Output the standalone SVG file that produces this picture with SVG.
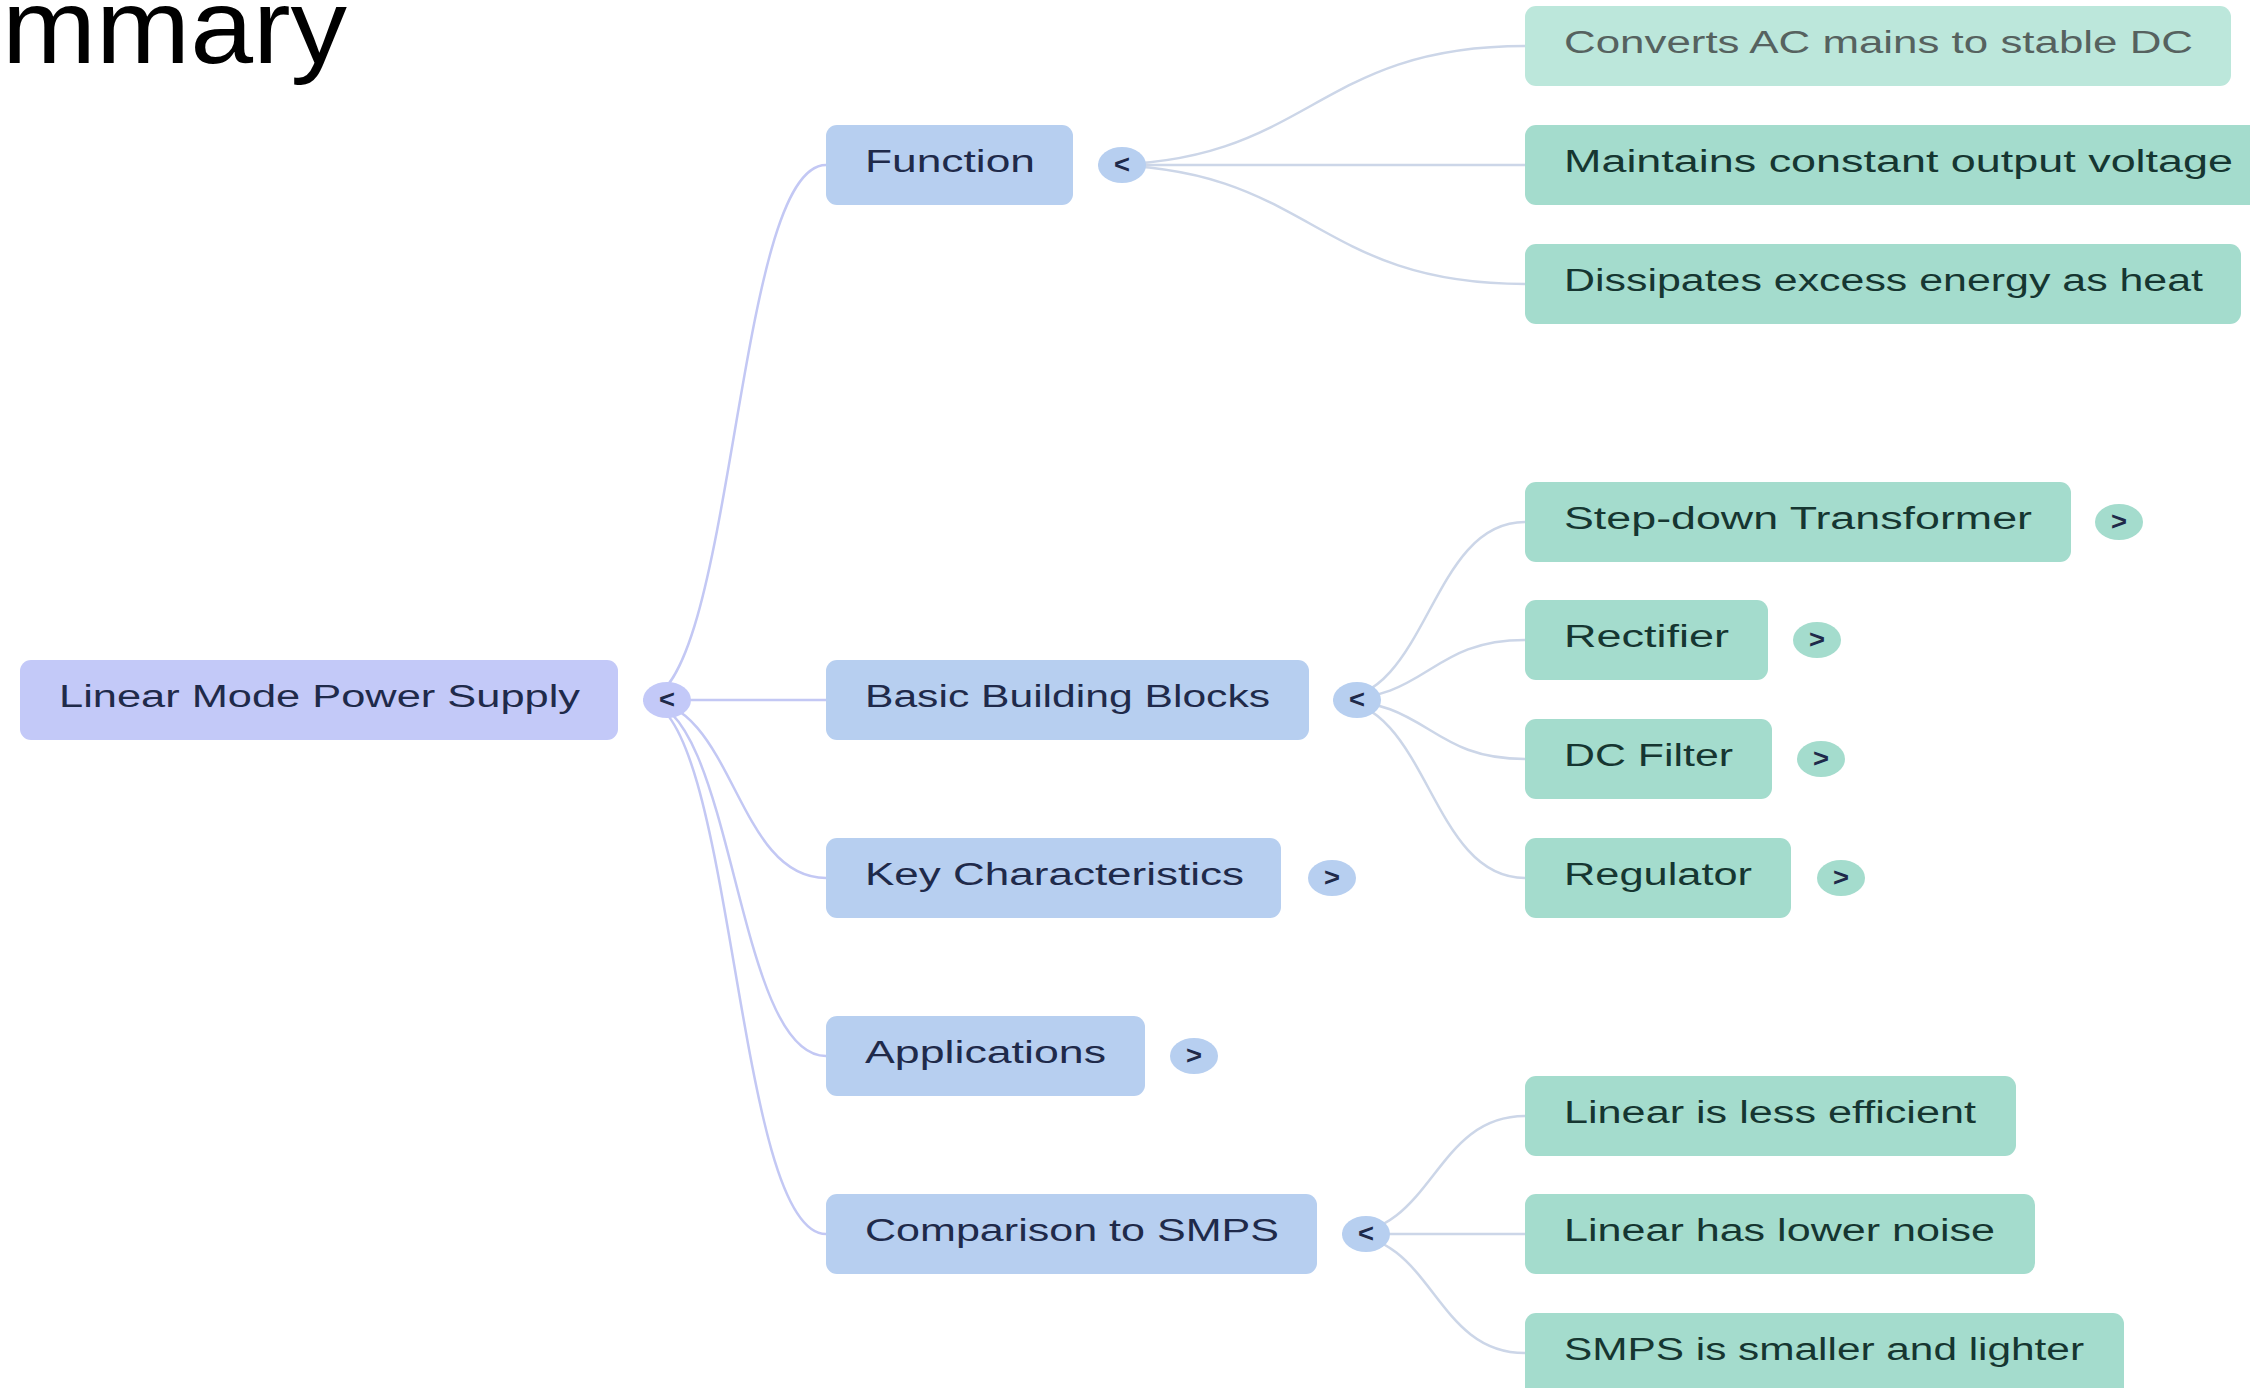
<svg xmlns="http://www.w3.org/2000/svg" width="2250" height="1388" viewBox="0 0 2250 1388">
<style>
  text { font-family: "Liberation Sans", Arial, sans-serif; }
  .root { fill: #c3c9f8; }
  .l1 { fill: #b7cff0; }
  .l2 { fill: #a4dccd; }
  .l2f { fill: #bce7db; }
  .lbl { font-size: 31px; fill: #1f2a4a; }
  .lbl2 { font-size: 31px; fill: #163631; }
  .lblf { font-size: 31px; fill: #56625f; }
  .chev { font-size: 25px; font-weight: bold; fill: #1f2a4a; text-anchor: middle; }
  .rl { fill: none; stroke: #c3c8f4; stroke-width: 2.5; }
  .cl { fill: none; stroke: #ccd6e8; stroke-width: 2.5; }
  .title { font-size: 106px; fill: #000; }
</style>
<rect width="2250" height="1388" fill="#ffffff"/>
<text class="title" x="2" y="63" textLength="345" lengthAdjust="spacingAndGlyphs">mmary</text>

<g id="connectors">
  <path class="rl" d="M643,700 C734.5,700 734.5,165 826,165"/>
  <path class="rl" d="M643,700 L826,700"/>
  <path class="rl" d="M643,700 C734.5,700 734.5,878 826,878"/>
  <path class="rl" d="M643,700 C734.5,700 734.5,1056 826,1056"/>
  <path class="rl" d="M643,700 C734.5,700 734.5,1234 826,1234"/>
  <path class="cl" d="M1098,165 C1311.5,165 1311.5,46 1525,46"/>
  <path class="cl" d="M1098,165 L1525,165"/>
  <path class="cl" d="M1098,165 C1311.5,165 1311.5,284 1525,284"/>
  <path class="cl" d="M1333,700 C1429,700 1429,522 1525,522"/>
  <path class="cl" d="M1333,700 C1429,700 1429,640 1525,640"/>
  <path class="cl" d="M1333,700 C1429,700 1429,759 1525,759"/>
  <path class="cl" d="M1333,700 C1429,700 1429,878 1525,878"/>
  <path class="cl" d="M1342,1234 C1433.5,1234 1433.5,1116 1525,1116"/>
  <path class="cl" d="M1342,1234 L1525,1234"/>
  <path class="cl" d="M1342,1234 C1433.5,1234 1433.5,1353 1525,1353"/>
</g>

<g id="node-root">
  <rect class="root" x="20" y="660" width="598" height="80" rx="11"/>
  <text class="lbl" x="59" y="707" textLength="521" lengthAdjust="spacingAndGlyphs">Linear Mode Power Supply</text>
  <ellipse class="root" cx="667" cy="700" rx="24" ry="18"/>
  <text class="chev" x="667" y="708" textLength="16" lengthAdjust="spacingAndGlyphs">&lt;</text>
</g>

<g id="node-function">
  <rect class="l1" x="826" y="125" width="247" height="80" rx="11"/>
  <text class="lbl" x="865" y="172" textLength="170" lengthAdjust="spacingAndGlyphs">Function</text>
  <ellipse class="l1" cx="1122" cy="165" rx="24" ry="18"/>
  <text class="chev" x="1122" y="173" textLength="16" lengthAdjust="spacingAndGlyphs">&lt;</text>
</g>

<g id="node-blocks">
  <rect class="l1" x="826" y="660" width="483" height="80" rx="11"/>
  <text class="lbl" x="865" y="707" textLength="405" lengthAdjust="spacingAndGlyphs">Basic Building Blocks</text>
  <ellipse class="l1" cx="1357" cy="700" rx="24" ry="18"/>
  <text class="chev" x="1357" y="708" textLength="16" lengthAdjust="spacingAndGlyphs">&lt;</text>
</g>

<g id="node-key">
  <rect class="l1" x="826" y="838" width="455" height="80" rx="11"/>
  <text class="lbl" x="865" y="885" textLength="379" lengthAdjust="spacingAndGlyphs">Key Characteristics</text>
  <ellipse class="l1" cx="1332" cy="878" rx="24" ry="18"/>
  <text class="chev" x="1332" y="886" textLength="16" lengthAdjust="spacingAndGlyphs">&gt;</text>
</g>

<g id="node-applications">
  <rect class="l1" x="826" y="1016" width="319" height="80" rx="11"/>
  <text class="lbl" x="865" y="1063" textLength="241" lengthAdjust="spacingAndGlyphs">Applications</text>
  <ellipse class="l1" cx="1194" cy="1056" rx="24" ry="18"/>
  <text class="chev" x="1194" y="1064" textLength="16" lengthAdjust="spacingAndGlyphs">&gt;</text>
</g>

<g id="node-comparison">
  <rect class="l1" x="826" y="1194" width="491" height="80" rx="11"/>
  <text class="lbl" x="865" y="1241" textLength="414" lengthAdjust="spacingAndGlyphs">Comparison to SMPS</text>
  <ellipse class="l1" cx="1366" cy="1234" rx="24" ry="18"/>
  <text class="chev" x="1366" y="1242" textLength="16" lengthAdjust="spacingAndGlyphs">&lt;</text>
</g>

<g id="node-converts">
  <rect class="l2f" x="1525" y="6" width="706" height="80" rx="11"/>
  <text class="lblf" x="1564" y="53" textLength="629" lengthAdjust="spacingAndGlyphs">Converts AC mains to stable DC</text>
</g>

<g id="node-maintains">
  <rect class="l2" x="1525" y="125" width="745" height="80" rx="11"/>
  <text class="lbl2" x="1564" y="172" textLength="669" lengthAdjust="spacingAndGlyphs">Maintains constant output voltage</text>
</g>

<g id="node-dissipates">
  <rect class="l2" x="1525" y="244" width="716" height="80" rx="11"/>
  <text class="lbl2" x="1564" y="291" textLength="639" lengthAdjust="spacingAndGlyphs">Dissipates excess energy as heat</text>
</g>

<g id="node-transformer">
  <rect class="l2" x="1525" y="482" width="546" height="80" rx="11"/>
  <text class="lbl2" x="1564" y="529" textLength="468" lengthAdjust="spacingAndGlyphs">Step-down Transformer</text>
  <ellipse class="l2" cx="2119" cy="522" rx="24" ry="18"/>
  <text class="chev" x="2119" y="530" textLength="16" lengthAdjust="spacingAndGlyphs">&gt;</text>
</g>

<g id="node-rectifier">
  <rect class="l2" x="1525" y="600" width="243" height="80" rx="11"/>
  <text class="lbl2" x="1564" y="647" textLength="165" lengthAdjust="spacingAndGlyphs">Rectifier</text>
  <ellipse class="l2" cx="1817" cy="640" rx="24" ry="18"/>
  <text class="chev" x="1817" y="648" textLength="16" lengthAdjust="spacingAndGlyphs">&gt;</text>
</g>

<g id="node-filter">
  <rect class="l2" x="1525" y="719" width="247" height="80" rx="11"/>
  <text class="lbl2" x="1564" y="766" textLength="169" lengthAdjust="spacingAndGlyphs">DC Filter</text>
  <ellipse class="l2" cx="1821" cy="759" rx="24" ry="18"/>
  <text class="chev" x="1821" y="767" textLength="16" lengthAdjust="spacingAndGlyphs">&gt;</text>
</g>

<g id="node-regulator">
  <rect class="l2" x="1525" y="838" width="266" height="80" rx="11"/>
  <text class="lbl2" x="1564" y="885" textLength="188" lengthAdjust="spacingAndGlyphs">Regulator</text>
  <ellipse class="l2" cx="1841" cy="878" rx="24" ry="18"/>
  <text class="chev" x="1841" y="886" textLength="16" lengthAdjust="spacingAndGlyphs">&gt;</text>
</g>

<g id="node-efficient">
  <rect class="l2" x="1525" y="1076" width="491" height="80" rx="11"/>
  <text class="lbl2" x="1564" y="1123" textLength="412" lengthAdjust="spacingAndGlyphs">Linear is less efficient</text>
</g>

<g id="node-noise">
  <rect class="l2" x="1525" y="1194" width="510" height="80" rx="11"/>
  <text class="lbl2" x="1564" y="1241" textLength="431" lengthAdjust="spacingAndGlyphs">Linear has lower noise</text>
</g>

<g id="node-smps">
  <rect class="l2" x="1525" y="1313" width="599" height="90" rx="11"/>
  <text class="lbl2" x="1564" y="1360" textLength="520" lengthAdjust="spacingAndGlyphs">SMPS is smaller and lighter</text>
</g>
</svg>
